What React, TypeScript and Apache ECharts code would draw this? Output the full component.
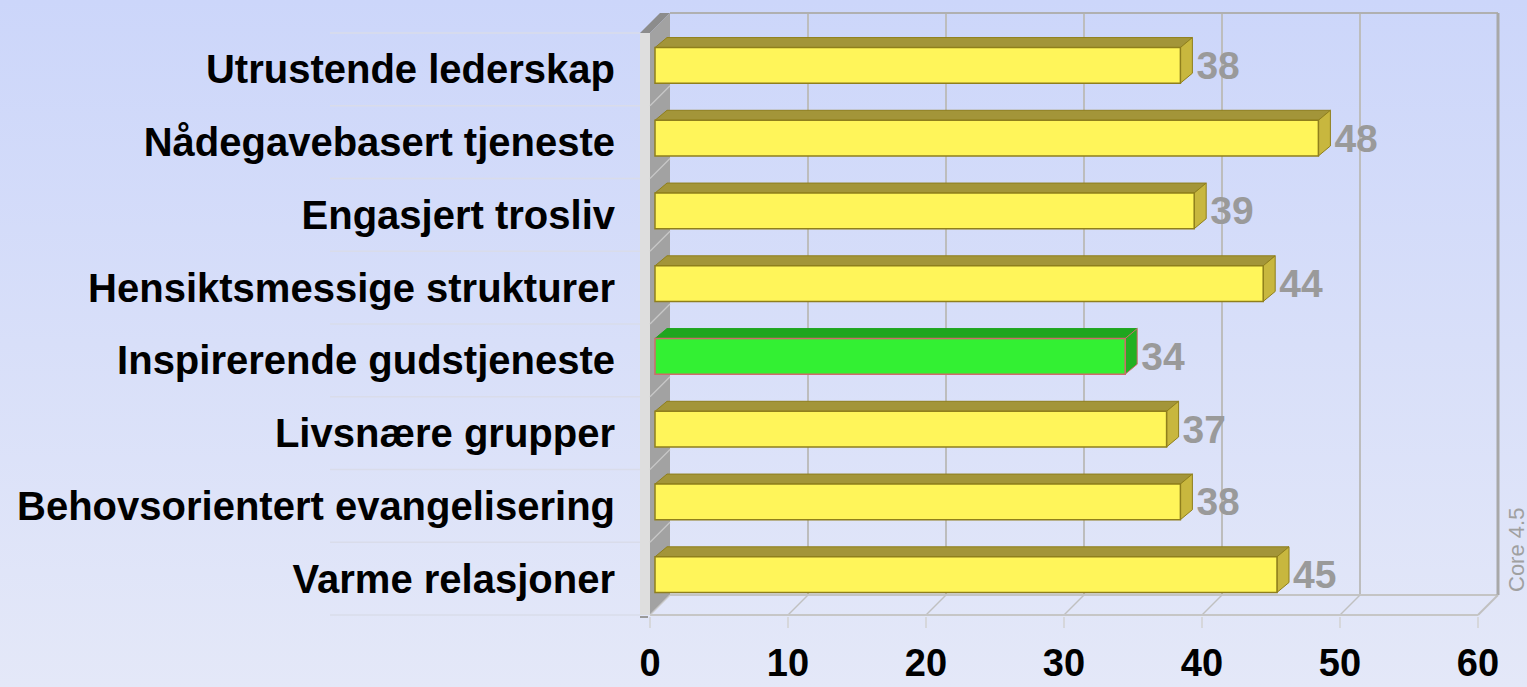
import React, { useEffect, useRef } from "react";
import * as echarts from "echarts";

const categories = [
  "Utrustende lederskap",
  "Nådegavebasert tjeneste",
  "Engasjert trosliv",
  "Hensiktsmessige strukturer",
  "Inspirerende gudstjeneste",
  "Livsnære grupper",
  "Behovsorientert evangelisering",
  "Varme relasjoner",
];
const values = [38, 48, 39, 44, 34, 37, 38, 45];
const highlightCategory = "Inspirerende gudstjeneste";
const xMin = 0;
const xMax = 60;
const xInterval = 10;
const xTicks = [0, 10, 20, 30, 40, 50, 60];
const watermark = "Core 4.5";

const DX = 20;
const DY = -20;

export default function App() {
  const ref = useRef<HTMLDivElement>(null);
  useEffect(() => {
    if (!ref.current) return;
    const chart = echarts.init(ref.current, null, { renderer: "svg" });

    const decorRender = (params: any, api: any) => {
      const cs = params.coordSys;
      const top = cs.y;
      const bottom = cs.y + cs.height;
      const X = (v: number) => api.coord([v, 0])[0];
      const x0 = X(xMin);
      const xN = X(xMax);
      const band = cs.height / categories.length;
      const children: any[] = [];
      for (let k = 0; k <= categories.length; k++) {
        const y = top + band * k;
        children.push({
          type: "line",
          shape: { x1: x0 - 320, y1: y, x2: x0 - 10, y2: y },
          style: { stroke: "#d9dcea", lineWidth: 1.5 },
        });
      }
      xTicks.forEach((v) => {
        if (v === xMin || v === xMax) return;
        children.push({
          type: "line",
          shape: { x1: X(v) + DX, y1: top + DY, x2: X(v) + DX, y2: bottom + DY },
          style: { stroke: "#bdbdbd", lineWidth: 2 },
        });
      });
      children.push({
        type: "line",
        shape: { x1: x0 + DX, y1: top + DY, x2: xN + DX, y2: top + DY },
        style: { stroke: "#b0b0b0", lineWidth: 2 },
      });
      children.push({
        type: "line",
        shape: { x1: x0 + DX, y1: bottom + DY, x2: xN + DX, y2: bottom + DY },
        style: { stroke: "#c4c4c4", lineWidth: 2 },
      });
      children.push({
        type: "line",
        shape: { x1: xN + DX, y1: top + DY, x2: xN + DX, y2: bottom + DY },
        style: { stroke: "#a8a8a8", lineWidth: 3 },
      });
      xTicks.forEach((v) => {
        if (v === xMin) return;
        children.push({
          type: "line",
          shape: { x1: X(v), y1: bottom, x2: X(v) + DX, y2: bottom + DY },
          style: { stroke: "#c0c0c0", lineWidth: v === xMax ? 2 : 1.5 },
        });
        children.push({
          type: "line",
          shape: { x1: X(v), y1: bottom + 2, x2: X(v), y2: bottom + 13 },
          style: { stroke: "#d2d2d2", lineWidth: 1.5 },
        });
      });
      children.push({
        type: "line",
        shape: { x1: x0, y1: bottom + 2, x2: x0, y2: bottom + 13 },
        style: { stroke: "#d2d2d2", lineWidth: 1.5 },
      });
      children.push({
        type: "line",
        shape: { x1: x0, y1: bottom, x2: xN, y2: bottom },
        style: { stroke: "#c6c6c6", lineWidth: 2 },
      });
      children.push({
        type: "rect",
        shape: { x: x0 - 10, y: top, width: 10, height: bottom - top },
        style: { fill: "#dedede" },
      });
      children.push({
        type: "polygon",
        shape: { points: [[x0 - 10, top], [x0 - 10 + DX, top + DY], [x0 + DX, top + DY], [x0, top]] },
        style: { fill: "#8c8c8c" },
      });
      children.push({
        type: "polygon",
        shape: { points: [[x0, top], [x0 + DX, top + DY], [x0 + DX, bottom + DY], [x0, bottom]] },
        style: { fill: "#a2a2a2" },
      });
      children.push({
        type: "line",
        shape: { x1: x0 - 10, y1: bottom + 2, x2: x0 - 2, y2: bottom + 2 },
        style: { stroke: "#9a9a9a", lineWidth: 2 },
      });
      for (let k = 1; k <= categories.length; k++) {
        const y = top + band * k;
        children.push({
          type: "line",
          shape: { x1: x0, y1: y, x2: x0 + DX, y2: y + DY },
          style: { stroke: "#c8c8c8", lineWidth: 1.2 },
        });
      }
      return { type: "group", children };
    };

    const barRender = (params: any, api: any) => {
      const ci = api.value(0);
      const v = api.value(1);
      const s = api.coord([0, ci]);
      const e = api.coord([v, ci]);
      const band = api.size([0, 1])[1];
      const h = band * 0.49;
      const yc = s[1] - 4;
      const x0 = s[0] + 5;
      const x1 = e[0] + 6;
      const yT = yc - h / 2;
      const yB = yc + h / 2;
      const bdx = 12;
      const bdy = -10;
      const hl = categories[ci] === highlightCategory;
      const front = hl ? "#33f033" : "#fff55a";
      const topC = hl ? "#1fa61f" : "#a39539";
      const side = hl ? "#22b022" : "#c8b73e";
      const edge = hl ? "#cf6b6b" : "#8f7f1c";
      return {
        type: "group",
        children: [
          {
            type: "polygon",
            shape: { points: [[x0, yT], [x0 + bdx, yT + bdy], [x1 + bdx, yT + bdy], [x1, yT]] },
            style: { fill: topC, stroke: hl ? topC : edge, lineWidth: 1 },
          },
          {
            type: "polygon",
            shape: { points: [[x1, yT], [x1 + bdx, yT + bdy], [x1 + bdx, yB + bdy], [x1, yB]] },
            style: { fill: side, stroke: edge, lineWidth: 1 },
          },
          {
            type: "rect",
            shape: { x: x0, y: yT, width: x1 - x0, height: yB - yT },
            style: { fill: front, stroke: edge, lineWidth: 1.5 },
          },
          {
            type: "text",
            style: {
              text: String(v),
              x: x1 + bdx + 4,
              y: yc,
              fill: "#9a9a9a",
              font: "bold 39px 'Liberation Sans', Arial, sans-serif",
              verticalAlign: "middle",
              align: "left",
            },
          },
        ],
      };
    };

    chart.setOption({
      animation: false,
      backgroundColor: new echarts.graphic.LinearGradient(0, 0, 0, 1, [
        { offset: 0, color: "#ccd6fa" },
        { offset: 1, color: "#e4e8f8" },
      ]),
      grid: { left: 650, top: 33, width: 828, height: 582, containLabel: false },
      xAxis: {
        type: "value",
        min: xMin,
        max: xMax,
        interval: xInterval,
        axisLine: { show: false },
        axisTick: { show: false },
        splitLine: { show: false },
        axisLabel: {
          color: "#000",
          fontWeight: "bold",
          fontSize: 38,
          lineHeight: 38,
          fontFamily: "'Liberation Sans', Arial, sans-serif",
          margin: 29,
        },
      },
      yAxis: {
        type: "category",
        inverse: true,
        data: categories,
        axisLine: { show: false },
        axisTick: { show: false },
        splitLine: { show: false },
        axisLabel: {
          color: "#000",
          fontWeight: "bold",
          fontSize: 40,
          fontFamily: "'Liberation Sans', Arial, sans-serif",
          margin: 35,
        },
      },
      graphic: [
        {
          type: "text",
          x: 1505,
          y: 592,
          rotation: Math.PI / 2,
          style: {
            text: watermark,
            fill: "#a0a0a0",
            font: "22px 'Liberation Sans', Arial, sans-serif",
            align: "left",
            verticalAlign: "top",
          },
        },
      ],
      series: [
        {
          type: "custom",
          coordinateSystem: "cartesian2d",
          data: [[0, 0]],
          encode: { x: 1, y: 0 },
          renderItem: decorRender,
          clip: false,
          silent: true,
          z: 1,
        },
        {
          type: "custom",
          coordinateSystem: "cartesian2d",
          data: values.map((v, i) => [i, v]),
          encode: { x: 1, y: 0 },
          renderItem: barRender,
          clip: false,
          z: 5,
        },
      ],
    });
    return () => chart.dispose();
  }, []);
  return (
    <div
      ref={ref}
      style={{ position: "fixed", left: 0, top: 0, width: 1527, height: 687 }}
    />
  );
}
